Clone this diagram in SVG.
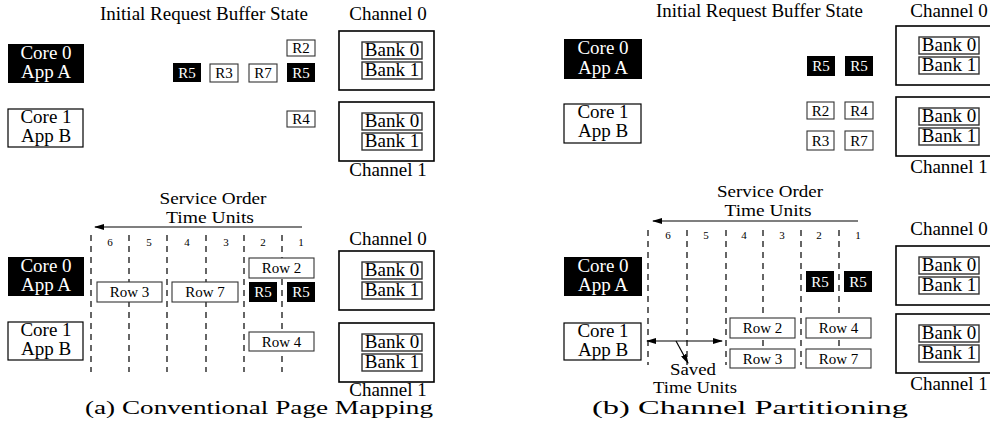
<svg xmlns="http://www.w3.org/2000/svg" width="993" height="431" viewBox="0 0 993 431" font-family="'Liberation Serif', 'DejaVu Serif', serif">
<style>
.t19{font-size:19px;font-family:"Liberation Serif","DejaVu Serif",serif}
.t17{font-size:17px;font-family:"Liberation Serif","DejaVu Serif",serif}
.mid{text-anchor:middle}
.wt{fill:#fff}
.core{fill:#000}
.coreb{fill:#fff;stroke:#000;stroke-width:1.2}
.ch{fill:#fff;stroke:#000;stroke-width:1.6}
.bank{fill:#fff;stroke:#333;stroke-width:1.4}
.req{fill:#fff;stroke:#333;stroke-width:1.1}
.reqb{fill:#000}
.rt{font-size:15px;text-anchor:middle;font-family:"Liberation Serif","DejaVu Serif",serif}
.num{font-size:11px;text-anchor:middle;font-family:"Liberation Serif","DejaVu Serif",serif}
.dash{stroke:#000;stroke-width:1.2;stroke-dasharray:6 5;fill:none}
.arr{stroke:#000;stroke-width:1.2;fill:none}
.cap{font-family:"Liberation Serif","DejaVu Serif",serif;font-size:18px}
</style>
<defs>
<marker id="ah" viewBox="0 0 10 6" refX="9" refY="3" markerWidth="10" markerHeight="6" markerUnits="userSpaceOnUse" orient="auto-start-reverse"><path d="M0,0 L10,3 L0,6 z" fill="#000"/></marker>
<g id="chbox">
<rect class="ch" x="0" y="0" width="95" height="59"/>
<rect class="bank" x="23" y="11" width="60" height="17"/>
<text class="t19 mid" x="53" y="25">Bank 0</text>
<rect class="bank" x="23" y="31" width="60" height="17"/>
<text class="t19 mid" x="53" y="45">Bank 1</text>
</g>
</defs>

<!-- ===== Panel (a) top ===== -->
<text class="t19" x="100" y="20" textLength="208" lengthAdjust="spacingAndGlyphs">Initial Request Buffer State</text>
<g id="a1-core0"><rect class="core" x="8" y="44" width="76" height="39"/><text class="t19 mid wt" x="46" y="59">Core 0</text><text class="t19 mid wt" x="46" y="78">App A</text></g>
<g id="a1-core1"><rect class="coreb" x="8" y="109" width="75" height="38"/><text class="t19 mid" x="46" y="123">Core 1</text><text class="t19 mid" x="46" y="142">App B</text></g>
<g id="a1-r5a"><rect class="reqb" x="173" y="63" width="28" height="19"/><text class="rt wt" x="187" y="78">R5</text></g>
<g id="a1-r3"><rect class="req" x="210" y="64" width="28" height="18"/><text class="rt" x="224" y="78">R3</text></g>
<g id="a1-r7"><rect class="req" x="249" y="64" width="28" height="18"/><text class="rt" x="263" y="78">R7</text></g>
<g id="a1-r5b"><rect class="reqb" x="287" y="63" width="28" height="19"/><text class="rt wt" x="301" y="78">R5</text></g>
<g id="a1-r2"><rect class="req" x="287" y="40" width="28" height="16"/><text class="rt" x="301" y="53">R2</text></g>
<g id="a1-r4"><rect class="req" x="287" y="111" width="28" height="16"/><text class="rt" x="301" y="124">R4</text></g>
<g id="a1-ch0"><text class="t19 mid" x="388" y="20">Channel 0</text><use href="#chbox" x="339" y="31"/></g>
<g id="a1-ch1"><use href="#chbox" x="339" y="102"/><text class="t19 mid" x="388" y="176">Channel 1</text></g>

<!-- ===== Panel (a) bottom ===== -->
<text class="t17 mid" x="213" y="204" textLength="107" lengthAdjust="spacingAndGlyphs">Service Order</text>
<text class="t17 mid" x="210" y="223" textLength="88" lengthAdjust="spacingAndGlyphs">Time Units</text>
<g id="a2-grid">
<line class="dash" x1="91" y1="235" x2="91" y2="372"/>
<line class="dash" x1="129" y1="235" x2="129" y2="372"/>
<line class="dash" x1="167" y1="235" x2="167" y2="372"/>
<line class="dash" x1="206" y1="235" x2="206" y2="372"/>
<line class="dash" x1="244" y1="235" x2="244" y2="372"/>
<line class="dash" x1="282" y1="235" x2="282" y2="372"/>
<text class="num" x="110" y="246">6</text><text class="num" x="149" y="246">5</text><text class="num" x="187" y="246">4</text><text class="num" x="226" y="246">3</text><text class="num" x="263" y="246">2</text><text class="num" x="301" y="246">1</text>
</g>
<g id="a2-core0"><rect class="core" x="8" y="257" width="76" height="39"/><text class="t19 mid wt" x="46" y="272">Core 0</text><text class="t19 mid wt" x="46" y="291">App A</text></g>
<g id="a2-core1"><rect class="coreb" x="8" y="322" width="75" height="38"/><text class="t19 mid" x="46" y="336">Core 1</text><text class="t19 mid" x="46" y="355">App B</text></g>
<g id="a2-row2"><rect class="req" x="249" y="258" width="65" height="20"/><text class="rt" x="281.5" y="273">Row 2</text></g>
<g id="a2-row3"><rect class="req" x="97" y="282" width="65" height="20"/><text class="rt" x="129.5" y="297">Row 3</text></g>
<g id="a2-row7"><rect class="req" x="172" y="282" width="66" height="20"/><text class="rt" x="205" y="297">Row 7</text></g>
<g id="a2-r5a"><rect class="reqb" x="249" y="282" width="28" height="20"/><text class="rt wt" x="263" y="297">R5</text></g>
<g id="a2-r5b"><rect class="reqb" x="287" y="282" width="28" height="20"/><text class="rt wt" x="301" y="297">R5</text></g>
<g id="a2-row4"><rect class="req" x="249" y="332" width="65" height="19"/><text class="rt" x="281.5" y="347">Row 4</text></g>
<g id="a2-ch0"><text class="t19 mid" x="388" y="245">Channel 0</text><use href="#chbox" x="339" y="251"/></g>
<g id="a2-ch1"><use href="#chbox" x="339" y="323"/><text class="t19 mid" x="388" y="396">Channel 1</text></g>
<text class="cap" x="85" y="414" textLength="348" lengthAdjust="spacingAndGlyphs">(a) Conventional Page Mapping</text>

<!-- ===== Panel (b) top ===== -->
<text class="t19" x="656" y="17" textLength="207" lengthAdjust="spacingAndGlyphs">Initial Request Buffer State</text>
<g id="b1-core0"><rect class="core" x="564" y="39" width="78" height="40"/><text class="t19 mid wt" x="603" y="54">Core 0</text><text class="t19 mid wt" x="603" y="74">App A</text></g>
<g id="b1-core1"><rect class="coreb" x="564" y="104" width="77" height="39"/><text class="t19 mid" x="603" y="118">Core 1</text><text class="t19 mid" x="603" y="137">App B</text></g>
<g id="b1-r5a"><rect class="reqb" x="807" y="56" width="28" height="20"/><text class="rt wt" x="821" y="71">R5</text></g>
<g id="b1-r5b"><rect class="reqb" x="845" y="56" width="28" height="20"/><text class="rt wt" x="859" y="71">R5</text></g>
<g id="b1-r2"><rect class="req" x="807" y="102" width="27" height="17"/><text class="rt" x="820.5" y="116">R2</text></g>
<g id="b1-r4"><rect class="req" x="845" y="102" width="28" height="17"/><text class="rt" x="859" y="116">R4</text></g>
<g id="b1-r3"><rect class="req" x="807" y="131" width="27" height="19"/><text class="rt" x="820.5" y="146">R3</text></g>
<g id="b1-r7"><rect class="req" x="845" y="131" width="28" height="19"/><text class="rt" x="859" y="146">R7</text></g>
<g id="b1-ch0"><text class="t19 mid" x="949" y="17">Channel 0</text><use href="#chbox" x="896" y="26"/><rect x="990" y="20" width="3" height="70" fill="#fff"/></g>
<g id="b1-ch1"><use href="#chbox" x="896" y="97"/><rect x="990" y="90" width="3" height="70" fill="#fff"/><text class="t19 mid" x="949" y="173">Channel 1</text></g>

<!-- ===== Panel (b) bottom ===== -->
<text class="t17 mid" x="770" y="197" textLength="106" lengthAdjust="spacingAndGlyphs">Service Order</text>
<text class="t17 mid" x="768" y="216" textLength="87" lengthAdjust="spacingAndGlyphs">Time Units</text>
<g id="b2-grid">
<line class="dash" x1="648" y1="230" x2="648" y2="365"/>
<line class="dash" x1="687" y1="230" x2="687" y2="365"/>
<line class="dash" x1="726" y1="230" x2="726" y2="365"/>
<line class="dash" x1="763" y1="230" x2="763" y2="365"/>
<line class="dash" x1="801" y1="230" x2="801" y2="365"/>
<line class="dash" x1="839" y1="230" x2="839" y2="365"/>
<text class="num" x="668" y="239">6</text><text class="num" x="706" y="239">5</text><text class="num" x="744" y="239">4</text><text class="num" x="782" y="239">3</text><text class="num" x="819" y="239">2</text><text class="num" x="858" y="239">1</text>
</g>
<g id="b2-core0"><rect class="core" x="564" y="257" width="78" height="39"/><text class="t19 mid wt" x="603" y="272">Core 0</text><text class="t19 mid wt" x="603" y="291">App A</text></g>
<g id="b2-core1"><rect class="coreb" x="564" y="323" width="77" height="37"/><text class="t19 mid" x="603" y="337">Core 1</text><text class="t19 mid" x="603" y="356">App B</text></g>
<g id="b2-r5a"><rect class="reqb" x="806" y="271" width="28" height="21"/><text class="rt wt" x="820" y="287">R5</text></g>
<g id="b2-r5b"><rect class="reqb" x="844" y="271" width="28" height="21"/><text class="rt wt" x="858" y="287">R5</text></g>
<g id="b2-row2"><rect class="req" x="730" y="318" width="65" height="20"/><text class="rt" x="762.5" y="333">Row 2</text></g>
<g id="b2-row4"><rect class="req" x="806" y="318" width="65" height="20"/><text class="rt" x="838.5" y="333">Row 4</text></g>
<g id="b2-row3"><rect class="req" x="730" y="349" width="65" height="19"/><text class="rt" x="762.5" y="364">Row 3</text></g>
<g id="b2-row7"><rect class="req" x="806" y="349" width="65" height="19"/><text class="rt" x="838.5" y="364">Row 7</text></g>
<g id="b2-saved"><text class="t17 mid" x="693" y="375" textLength="46" lengthAdjust="spacingAndGlyphs">Saved</text><text class="t17 mid" x="695" y="393" textLength="84" lengthAdjust="spacingAndGlyphs">Time Units</text></g>
<g id="b2-ch0"><text class="t19 mid" x="949" y="235">Channel 0</text><use href="#chbox" x="896" y="246"/><rect x="990" y="240" width="3" height="70" fill="#fff"/></g>
<g id="b2-ch1"><use href="#chbox" x="896" y="314"/><rect x="990" y="310" width="3" height="70" fill="#fff"/><text class="t19 mid" x="949" y="390">Channel 1</text></g>
<text class="cap" x="592" y="414" textLength="316" lengthAdjust="spacingAndGlyphs">(b) Channel Partitioning</text>

<!-- ===== Connectors ===== -->
<g id="connectors">
<line class="arr" x1="302" y1="227" x2="95" y2="227" marker-end="url(#ah)"/>
<line class="arr" x1="858" y1="221" x2="653" y2="221" marker-end="url(#ah)"/>
<line class="arr" x1="647" y1="341" x2="722" y2="341" marker-start="url(#ah)" marker-end="url(#ah)"/>
<line class="arr" x1="676" y1="341" x2="688" y2="363" marker-end="url(#ah)"/>
</g>
</svg>
